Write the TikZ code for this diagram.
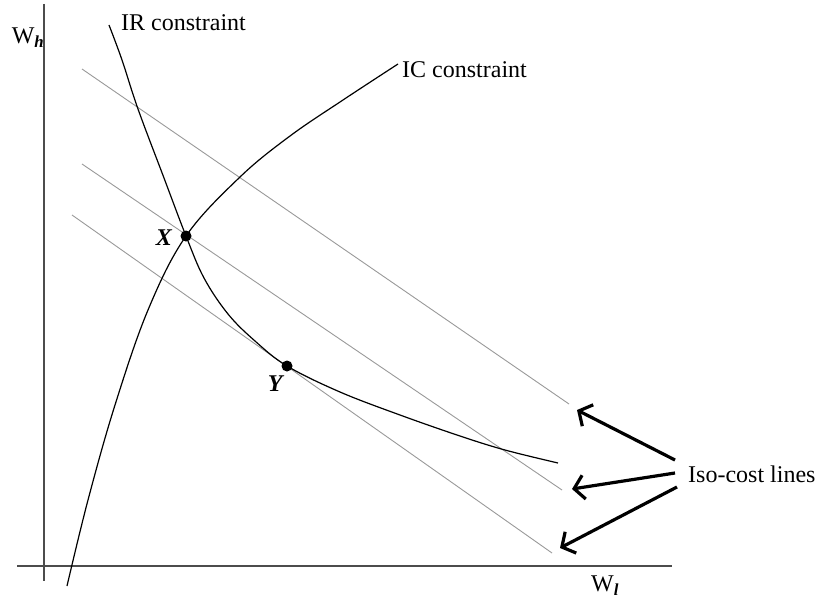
\documentclass[tikz,border=0pt]{standalone}
\usepackage{fontspec}
\setmainfont{Liberation Serif}
\usetikzlibrary{arrows.meta}
\tikzset{
  axis/.style={line width=1.6pt, black!70},
  curve/.style={line width=1.2pt, black},
  isocost/.style={line width=0.9pt, black!40},
  dot/.style={circle, fill=black, inner sep=0pt, minimum size=11pt},
  lbl/.style={font=\fontsize{24}{28}\selectfont, inner sep=0pt},
  pointer/.style={line width=3.2pt, -{Straight Barb[length=10pt,width=24pt]}}
}
\begin{document}
\begin{tikzpicture}[x=1pt,y=-1pt]
    \useasboundingbox (0,0) rectangle (821,599);
    % axes
    \draw[axis] (44,4)--(44,581);
    \draw[axis] (17,566)--(672,566);
    \node[lbl] (wh) at (28,38) {W\textsubscript{\textbf{\textit{h}}}};
    \node[lbl] (wl) at (605,586) {W\textsubscript{\textbf{\textit{l}}}};
    % iso-cost lines
    \draw[isocost] (82,69)--(569,404);
    \draw[isocost] (82,164)--(562,490);
    \draw[isocost] (72,215)--(552,553);
    % constraints
    \draw[curve] plot[smooth, tension=0.6] coordinates {(109,25) (122,60) (138,109) (164,178) (186,236) (204,278) (228,314) (255,341) (287,366) (340,392) (400,415) (460,436) (505,450) (558,463)};
    \draw[curve] plot[smooth, tension=0.6] coordinates {(67,586) (88,500) (115,405) (148,310) (186,236) (240,177) (290,136) (343,100) (398,64)};
    \node[lbl, anchor=west] (ir) at (121,23) {IR constraint};
    \node[lbl, anchor=west] (ic) at (402,70) {IC constraint};
    % points
    \node[dot] (ptX) at (186,236) {};
    \node[dot] (ptY) at (287,366) {};
    \node[lbl] (lblX) at (164,238) {\textbf{\textit{X}}};
    \node[lbl] (lblY) at (276,384) {\textbf{\textit{Y}}};
    % pointers
    \node[lbl, anchor=west] (iso) at (688,474) {Iso-cost lines};
    \coordinate (tipA) at (577,410);
    \coordinate (tipB) at (572,489);
    \coordinate (tipC) at (560,548);
    \draw[pointer] ([shift={(-13,-14)}]iso.west)--(tipA);
    \draw[pointer] ([shift={(-13,-1)}]iso.west)--(tipB);
    \draw[pointer] ([shift={(-11,13)}]iso.west)--(tipC);
\end{tikzpicture}
\end{document}
